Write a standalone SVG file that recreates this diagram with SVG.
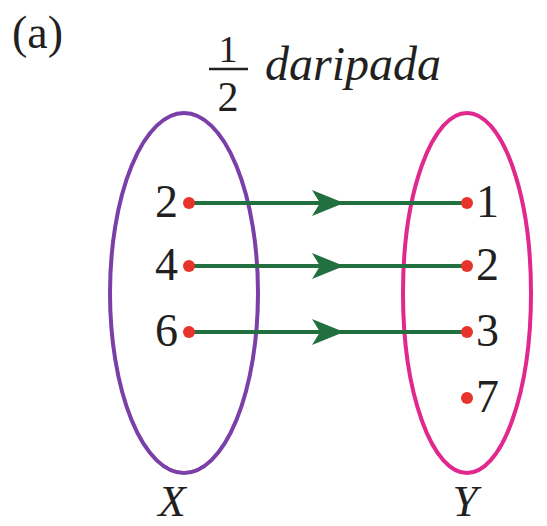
<svg xmlns="http://www.w3.org/2000/svg" width="547" height="526" viewBox="0 0 547 526">
<rect width="547" height="526" fill="#fff"/>
<text x="12" y="48" style="font-family:'Times New Roman','Liberation Serif',Tinos,serif;font-size:46px;fill:#231f20">(a)</text>
<g id="title">
<text x="228" y="62" text-anchor="middle" style="font-family:'Times New Roman','Liberation Serif',Tinos,serif;font-size:38px;fill:#231f20">1</text>
<line x1="209" y1="69" x2="248" y2="69" stroke="#231f20" stroke-width="2.5"/>
<text x="228" y="111" text-anchor="middle" style="font-family:'Times New Roman','Liberation Serif',Tinos,serif;font-size:42px;fill:#231f20">2</text>
<text x="265" y="80" style="font-family:'Times New Roman','Liberation Serif',Tinos,serif;font-size:48px;font-style:italic;fill:#231f20">daripada</text>
</g>
<g id="setX">
<ellipse cx="184" cy="293" rx="74" ry="180" fill="none" stroke="#7a3fa8" stroke-width="4"/>
<text x="172" y="516" text-anchor="middle" style="font-family:'Times New Roman','Liberation Serif',Tinos,serif;font-size:45px;font-style:italic;fill:#231f20">X</text>
</g>
<g id="setY">
<ellipse cx="467" cy="293" rx="64" ry="180" fill="none" stroke="#e0288e" stroke-width="4"/>
<text x="465" y="516" text-anchor="middle" style="font-family:'Times New Roman','Liberation Serif',Tinos,serif;font-size:45px;font-style:italic;fill:#231f20">Y</text>
</g>
<g id="edges" stroke="#22703f" stroke-width="4" fill="#22703f">
<line x1="189" y1="203" x2="467" y2="203"/>
<line x1="189" y1="266" x2="467" y2="266"/>
<line x1="189" y1="332" x2="467" y2="332"/>
<path stroke="none" d="M312,190 L344,203 L312,216 L320,203 Z"/>
<path stroke="none" d="M312,253 L344,266 L312,279 L320,266 Z"/>
<path stroke="none" d="M312,319 L344,332 L312,345 L320,332 Z"/>
</g>
<g id="x2"><circle fill="#e8332a" cx="189" cy="203" r="6"/><text x="178" y="217" text-anchor="end" style="font-family:'Times New Roman','Liberation Serif',Tinos,serif;font-size:46px;fill:#231f20">2</text></g>
<g id="x4"><circle fill="#e8332a" cx="189" cy="266" r="6"/><text x="178" y="280" text-anchor="end" style="font-family:'Times New Roman','Liberation Serif',Tinos,serif;font-size:46px;fill:#231f20">4</text></g>
<g id="x6"><circle fill="#e8332a" cx="189" cy="332" r="6"/><text x="178" y="346" text-anchor="end" style="font-family:'Times New Roman','Liberation Serif',Tinos,serif;font-size:46px;fill:#231f20">6</text></g>
<g id="y1"><circle fill="#e8332a" cx="467" cy="203" r="6"/><text x="476" y="217" style="font-family:'Times New Roman','Liberation Serif',Tinos,serif;font-size:46px;fill:#231f20">1</text></g>
<g id="y2"><circle fill="#e8332a" cx="467" cy="266" r="6"/><text x="476" y="280" style="font-family:'Times New Roman','Liberation Serif',Tinos,serif;font-size:46px;fill:#231f20">2</text></g>
<g id="y3"><circle fill="#e8332a" cx="467" cy="332" r="6"/><text x="476" y="346" style="font-family:'Times New Roman','Liberation Serif',Tinos,serif;font-size:46px;fill:#231f20">3</text></g>
<g id="y7"><circle fill="#e8332a" cx="467" cy="398" r="6"/><text x="476" y="412" style="font-family:'Times New Roman','Liberation Serif',Tinos,serif;font-size:46px;fill:#231f20">7</text></g>
</svg>
